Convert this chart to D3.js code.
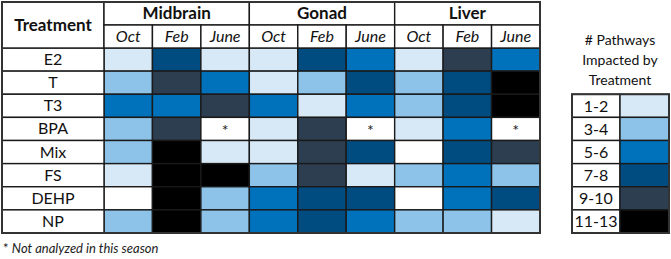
<!DOCTYPE html>
<html>
<head>
<meta charset="utf-8">
<script src="https://cdn.jsdelivr.net/npm/d3@7"></script>
<style>
  html, body { margin: 0; padding: 0; background: #fff; }
  svg { display: block; font-family: Lato, "Open Sans", sans-serif; }
</style>
</head>
<body>
<div id="chart"></div>
<script>
// tissues and sampling seasons (column headers)
const tissues = ['Midbrain', 'Gonad', 'Liver'];
const seasons = ['Oct', 'Feb', 'June'];
const treatments = ['E2', 'T', 'T3', 'BPA', 'Mix', 'FS', 'DEHP', 'NP'];

// legend bins: 0 = none (white), 1..6 = bins below; null = not analyzed
const legendLabels = ['1-2', '3-4', '5-6', '7-8', '9-10', '11-13'];
const binColors = ['#ffffff', '#d7e9f7', '#8dc3e8', '#0072bb', '#004b7f', '#2d3e50', '#000000'];

// bin level per treatment, per tissue (Oct, Feb, June)
const midbrain = {
  E2: [1, 4, 1], T: [2, 5, 3], T3: [3, 3, 5], BPA: [2, 5, null],
  Mix: [2, 6, 1], FS: [1, 6, 6], DEHP: [0, 6, 2], NP: [2, 6, 2]
};
const gonad = {
  E2: [1, 4, 3], T: [1, 2, 4], T3: [3, 1, 3], BPA: [1, 5, null],
  Mix: [1, 5, 4], FS: [2, 5, 1], DEHP: [3, 4, 4], NP: [3, 4, 3]
};
const liver = {
  E2: [1, 5, 3], T: [2, 4, 6], T3: [2, 4, 6], BPA: [1, 3, null],
  Mix: [0, 4, 5], FS: [2, 3, 2], DEHP: [0, 3, 4], NP: [2, 2, 1]
};

const tissueData = { Midbrain: midbrain, Gonad: gonad, Liver: liver };

const W = 671, H = 259;
const svg = d3.select('#chart').append('svg')
  .attr('width', W).attr('height', H);

const lineColor = '#1a1a1a';
const tableLeft = 2, labelRight = 104, tableRight = 540;
const headTop = 2, headMid = 25, bodyTop = 48, bodyBottom = 233;

// columns: one per tissue/season combo
const columns = tissues.flatMap(t => seasons.map(s => t + '|' + s));
const x = d3.scaleBand().domain(columns).range([labelRight, tableRight]);
const y = d3.scaleBand().domain(treatments).range([bodyTop, bodyBottom]);
const color = d3.scaleOrdinal().domain(d3.range(7)).range(binColors);

// cells
const cells = [];
treatments.forEach(tr => {
  tissues.forEach(ti => {
    tissueData[ti][tr].forEach((v, i) => {
      cells.push({ treatment: tr, col: ti + '|' + seasons[i], value: v });
    });
  });
});

const g = svg.append('g');

g.selectAll('rect.cell')
  .data(cells)
  .join('rect')
  .attr('class', 'cell')
  .attr('x', d => x(d.col))
  .attr('y', d => y(d.treatment))
  .attr('width', x.bandwidth())
  .attr('height', y.bandwidth())
  .attr('fill', d => d.value == null ? '#fff' : color(d.value))
  .attr('stroke', lineColor)
  .attr('stroke-width', 1.4);

// not analyzed markers
g.selectAll('text.na')
  .data(cells.filter(d => d.value == null))
  .join('text')
  .attr('class', 'na')
  .attr('x', d => x(d.col) + x.bandwidth() / 2)
  .attr('y', d => y(d.treatment) + y.bandwidth() / 2 + 7)
  .attr('text-anchor', 'middle')
  .attr('font-size', 16)
  .attr('fill', '#222')
  .text('*');

// treatment label cells
g.selectAll('rect.rowlab')
  .data(treatments)
  .join('rect')
  .attr('class', 'rowlab')
  .attr('x', tableLeft)
  .attr('y', d => y(d))
  .attr('width', labelRight - tableLeft)
  .attr('height', y.bandwidth())
  .attr('fill', '#fff')
  .attr('stroke', lineColor)
  .attr('stroke-width', 1.4);

g.selectAll('text.rowlab')
  .data(treatments)
  .join('text')
  .attr('class', 'rowlab')
  .attr('x', (tableLeft + labelRight) / 2)
  .attr('y', d => y(d) + y.bandwidth() / 2 + 5.5)
  .attr('text-anchor', 'middle')
  .attr('font-size', 16)
  .attr('fill', '#111')
  .text(d => d);

// header: treatment box spans both header rows
g.append('rect')
  .attr('x', tableLeft).attr('y', headTop)
  .attr('width', labelRight - tableLeft).attr('height', bodyTop - headTop)
  .attr('fill', '#fff').attr('stroke', lineColor).attr('stroke-width', 1.4);
g.append('text')
  .attr('x', (tableLeft + labelRight) / 2)
  .attr('y', (headTop + bodyTop) / 2 + 6)
  .attr('text-anchor', 'middle')
  .attr('font-size', 17).attr('font-weight', 'bold').attr('fill', '#111')
  .text('Treatment');

// tissue headers
tissues.forEach(ti => {
  const x0 = x(ti + '|' + seasons[0]);
  const x1 = x(ti + '|' + seasons[2]) + x.bandwidth();
  g.append('rect')
    .attr('x', x0).attr('y', headTop)
    .attr('width', x1 - x0).attr('height', headMid - headTop)
    .attr('fill', '#fff').attr('stroke', lineColor).attr('stroke-width', 1.4);
  g.append('text')
    .attr('x', (x0 + x1) / 2).attr('y', headMid - 6)
    .attr('text-anchor', 'middle')
    .attr('font-size', 17).attr('font-weight', 'bold').attr('fill', '#111')
    .text(ti);
});

// season headers
g.selectAll('rect.season')
  .data(columns)
  .join('rect')
  .attr('class', 'season')
  .attr('x', d => x(d)).attr('y', headMid)
  .attr('width', x.bandwidth()).attr('height', bodyTop - headMid)
  .attr('fill', '#fff').attr('stroke', lineColor).attr('stroke-width', 1.4);
g.selectAll('text.season')
  .data(columns)
  .join('text')
  .attr('class', 'season')
  .attr('x', d => x(d) + x.bandwidth() / 2)
  .attr('y', bodyTop - 6)
  .attr('text-anchor', 'middle')
  .attr('font-size', 16).attr('font-style', 'italic').attr('fill', '#111')
  .text(d => d.split('|')[1]);

// outer border
g.append('rect')
  .attr('x', tableLeft).attr('y', headTop)
  .attr('width', tableRight - tableLeft).attr('height', bodyBottom - headTop)
  .attr('fill', 'none').attr('stroke', '#333').attr('stroke-width', 2);

// footnote
const foot = svg.append('text')
  .attr('x', 3).attr('y', 253)
  .attr('font-size', 13).attr('fill', '#222');
foot.append('tspan').text('* ');
foot.append('tspan').attr('font-style', 'italic').text('Not analyzed in this season');

// legend
const legLeft = 572, legMid = 620, legRight = 669;
const legY = d3.scaleBand()
  .domain(legendLabels)
  .range([y('T3'), bodyBottom]);

const legTitle = ['# Pathways', 'Impacted by', 'Treatment'];
svg.selectAll('text.legtitle')
  .data(legTitle)
  .join('text')
  .attr('class', 'legtitle')
  .attr('x', legMid)
  .attr('y', (d, i) => 45 + i * 20)
  .attr('text-anchor', 'middle')
  .attr('font-size', 14).attr('fill', '#111')
  .text(d => d);

const leg = svg.append('g');
leg.selectAll('rect.leglab')
  .data(legendLabels)
  .join('rect')
  .attr('class', 'leglab')
  .attr('x', legLeft).attr('y', d => legY(d))
  .attr('width', legMid - legLeft).attr('height', legY.bandwidth())
  .attr('fill', '#fff').attr('stroke', lineColor).attr('stroke-width', 1.4);
leg.selectAll('rect.legsw')
  .data(legendLabels)
  .join('rect')
  .attr('class', 'legsw')
  .attr('x', legMid).attr('y', d => legY(d))
  .attr('width', legRight - legMid).attr('height', legY.bandwidth())
  .attr('fill', (d, i) => color(i + 1))
  .attr('stroke', lineColor).attr('stroke-width', 1.4);
leg.selectAll('text')
  .data(legendLabels)
  .join('text')
  .attr('x', (legLeft + legMid) / 2)
  .attr('y', d => legY(d) + legY.bandwidth() / 2 + 6)
  .attr('text-anchor', 'middle')
  .attr('font-size', 16).attr('fill', '#111')
  .text(d => d);
leg.append('rect')
  .attr('x', legLeft).attr('y', y('T3'))
  .attr('width', legRight - legLeft).attr('height', bodyBottom - y('T3'))
  .attr('fill', 'none').attr('stroke', '#333').attr('stroke-width', 2);
</script>
</body>
</html>
